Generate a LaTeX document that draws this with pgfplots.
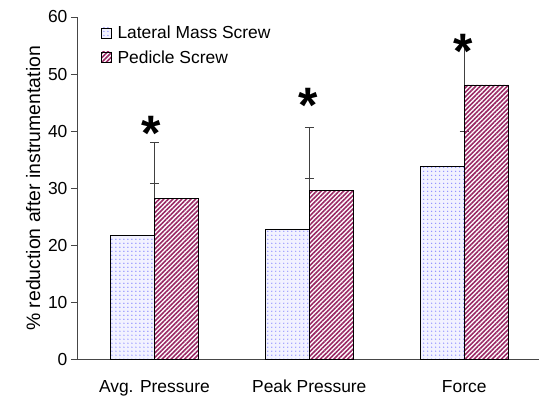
\documentclass[border=0pt]{standalone}
\usepackage{pgfplots}
\pgfplotsset{compat=1.18}
\usetikzlibrary{patterns.meta}
\usepackage{fontspec}
\setmainfont{Liberation Sans}
\definecolor{maroon}{RGB}{153,40,100}
\definecolor{dotblue}{RGB}{140,140,255}
\definecolor{lavfill}{RGB}{242,242,255}
\definecolor{axgray}{RGB}{70,70,70}
\begin{document}
\begin{tikzpicture}[x=1bp,y=1bp]
\begin{axis}[
  at={(0,0)}, anchor=south west,
  scale only axis, width=462bp, height=343bp,
  xmin=-0.5, xmax=2.48, ymin=0, ymax=60,
  axis x line*=bottom, axis y line*=left,
  axis line style={axgray, line width=0.8pt},
  xtick={0,1,2},
  xticklabels={Avg. Pressure, Peak Pressure, Force},
  x tick label style={font=\fontsize{17.5}{19}\selectfont, yshift=-11bp},
  extra x ticks={-0.5,0.5,1.5},
  extra x tick labels={},
  extra x tick style={major tick length=6bp, tick style={axgray, line width=0.8pt}},
  ytick={0,10,...,60},
  y tick label style={font=\fontsize{17.5}{19}\selectfont},
  tick align=outside,
  major tick length=6bp,
  x tick style={draw=none},
  y tick style={axgray, line width=0.8pt},
  /pgf/number format/assume math mode=true,
  ylabel={\% reduction after instrumentation},
  ylabel style={font=\fontsize{19.5}{21}\selectfont, yshift=1bp},
  legend style={at={(0.045,0.985)}, anchor=north west, draw=none, fill=none,
    font=\fontsize{17.5}{19}\selectfont, row sep=6bp},
  legend cell align=left,
  legend image code/.code={\draw[#1, line width=0.6pt] (0bp,-4.5bp) rectangle (10bp,5.5bp);\path (14bp,0);},
  error bars/y dir=plus, error bars/y explicit,
  error bars/error bar style={black!75, line width=1.1pt},
  error bars/error mark options={rotate=90, mark size=4.5bp, black!75, line width=1.1pt},
  clip=false,
]
\addplot[ybar, bar width=0.285, bar shift=-0.1425, draw=black, line width=0.7pt,
  fill=lavfill, postaction={pattern={Dots[distance=4bp, radius=0.7bp]}, pattern color=dotblue}]
  coordinates {(0,21.8) +- (0,9.0) (1,22.9) +- (0,8.9) (2,33.9) +- (0,6.0)};
\addlegendentry{Lateral Mass Screw}
\addplot[ybar, bar width=0.285, bar shift=0.1425, draw=black, line width=0.7pt,
  pattern={Lines[angle=45, distance=3.2bp, line width=1.6bp]}, pattern color=maroon]
  coordinates {(0,28.3) +- (0,9.8) (1,29.7) +- (0,10.9) (2,48.1) +- (0,7.5)};
\addlegendentry{Pedicle Screw}
\node[font=\fontsize{50}{50}\bfseries] at (axis cs:-0.02,39.6) {*};
\node[font=\fontsize{50}{50}\bfseries] at (axis cs:0.99,44.5) {*};
\node[font=\fontsize{50}{50}\bfseries] at (axis cs:1.99,54.0) {*};
\end{axis}
\path[use as bounding box] (-77bp,-36bp) rectangle (462bp,360bp);
\end{tikzpicture}
\end{document}
